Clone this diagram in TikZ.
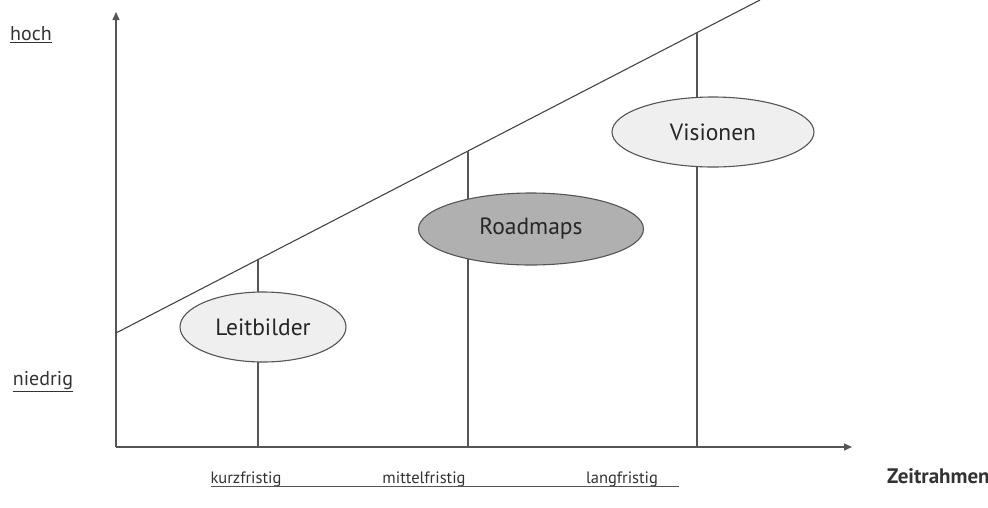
\documentclass[tikz,border=0pt]{standalone}
\usepackage{fontspec}
\setmainfont{PT Sans}
\usetikzlibrary{arrows.meta,shapes.geometric}
\definecolor{axisgray}{HTML}{555555}
\definecolor{lightfill}{HTML}{EFEFEF}
\definecolor{darkfill}{HTML}{B0B0B0}
\tikzset{
  axisline/.style={draw=axisgray,line width=1.4pt,-{Triangle[length=8pt,width=7pt]}},
  stemline/.style={draw=axisgray,line width=1.2pt},
  diagline/.style={draw=axisgray!80!black,line width=1.1pt},
  oval/.style={ellipse,draw=axisgray,line width=1.1pt,inner sep=0pt,font=\fontsize{23.5}{26}\selectfont,text=black!85},
  axlabel/.style={font=\fontsize{16.5}{19}\selectfont,text=black!80,inner sep=0pt},
  ylabel/.style={font=\fontsize{20}{23}\selectfont,text=black!80,inner sep=0pt},
}
\begin{document}
\begin{tikzpicture}[x=1pt,y=-1pt]
\useasboundingbox (0,0) rectangle (988,507);
% axes
\coordinate (O) at (116,447);
\coordinate (ytop) at (116,12);
\coordinate (xend) at (852,447);
\draw[axisline] (O) -- (ytop);
\draw[axisline] (O) -- (xend);
% diagonal
\coordinate (d0) at (116,333);
\coordinate (d1) at (760,0);
\draw[diagline] (d0) -- (d1);
% stems
\coordinate (s1t) at (258,259.6);
\coordinate (s1b) at (258,447);
\coordinate (s2t) at (468,151);
\coordinate (s2b) at (468,447);
\coordinate (s3t) at (697,32.6);
\coordinate (s3b) at (697,447);
\draw[stemline] (s1t) -- (s1b);
\draw[stemline] (s2t) -- (s2b);
\draw[stemline] (s3t) -- (s3b);
% ellipses
\node[oval,fill=lightfill,minimum width=166pt,minimum height=70pt] (leit) at (263,327) {Leitbilder};
\node[oval,fill=darkfill,minimum width=225pt,minimum height=72pt] (road) at (531,229) {Roadmaps};
\node[oval,fill=lightfill,minimum width=202pt,minimum height=70pt] (vis) at (713,132) {Visionen};
% y labels
\node[ylabel] (hoch) at (31,35) {\underline{hoch}};
\node[ylabel] (niedrig) at (43,382) {\underline{niedrig}};
% x labels
\node[axlabel,anchor=base] (kurz) at (246,483) {kurzfristig};
\node[axlabel,anchor=base] (mittel) at (424,483) {mittelfristig};
\node[axlabel,anchor=base] (lang) at (622,483) {langfristig};
\coordinate (ul0) at (211,486.5);
\coordinate (ul1) at (679,486.5);
\draw[axisgray,line width=1pt] (ul0) -- (ul1);
\node[axlabel,anchor=base west,font=\fontsize{21}{24}\selectfont\bfseries] (zeit) at (887,483) {Zeitrahmen};
\end{tikzpicture}
\end{document}
